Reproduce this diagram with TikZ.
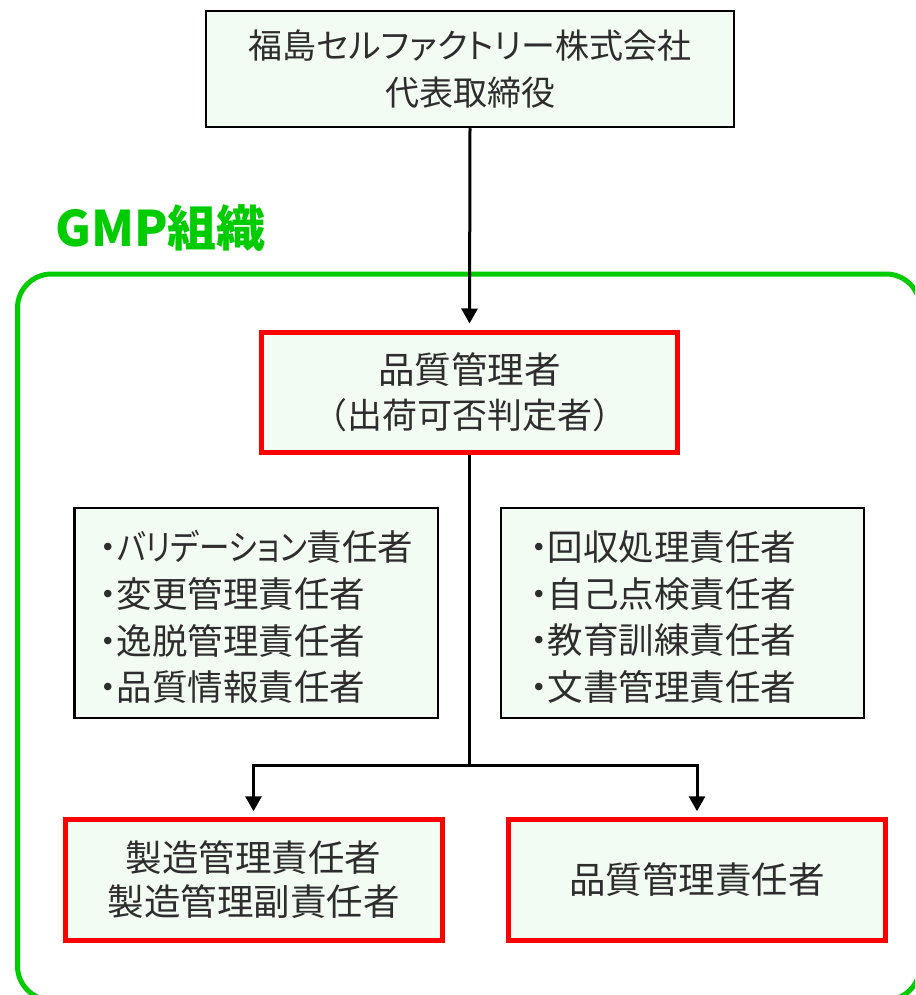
\documentclass[tikz,border=0pt]{standalone}
\usepackage{graphicx}
\usepackage{fontspec}
\setmainfont{Noto Sans CJK JP}[RawFeature=+palt]
\newfontfamily\jpplain{Noto Sans CJK JP}
\usetikzlibrary{arrows.meta}
\definecolor{boxfill}{RGB}{243,252,243}
\definecolor{txt}{RGB}{45,45,45}
\definecolor{gmpgreen}{RGB}{0,204,0}
\definecolor{redline}{RGB}{255,0,0}
\begin{document}
\begin{tikzpicture}[x=1pt,y=-1pt,
  blackbox/.style={draw=black, line width=2.5pt, fill=boxfill, inner sep=0pt, text=txt, align=center},
  redbox/.style={draw=redline, line width=5pt, fill=boxfill, inner sep=0pt, text=txt, align=center},
  listtext/.style={text=txt, align=left, inner sep=0pt, anchor=west, font=\fontsize{35.5}{46.7}\selectfont},
  conn/.style={line width=3pt, draw=black},
  arr/.style={conn, -{Triangle[width=16pt,length=15pt]}, shorten >=6pt}
]
\useasboundingbox (0,0) rectangle (915,995);
\begin{scope}
  \clip (0,0) rectangle (915,995);
  \draw[gmpgreen, line width=5pt, rounded corners=34pt] (17.5,274) rectangle (920,1000);
\end{scope}

\node[blackbox, minimum width=528pt, minimum height=116pt, font=\fontsize{34}{47}\selectfont] (top) at (470,69) {福島セルファクトリー株式会社\\代表取締役};

\node[font=\bfseries\fontsize{49}{52}\selectfont, text=gmpgreen, anchor=west, inner sep=0pt] (gmp) at (55,228) {GMP組織};

\node[redbox, minimum width=416pt, minimum height=120pt, font=\fontsize{36.5}{45}\selectfont] (qa) at (469.5,392) {品質管理者\\{\jpplain\fontsize{35}{45}\selectfont （出荷可否判定者）}};

\draw[arr] (top.south) -- (qa.north);

\node[blackbox, minimum width=363.5pt, minimum height=210pt] (lbox) at (256,613) {};
\node[listtext] (ltext) at (99,617) {・\scalebox{0.86}[1]{バリデーション}責任者\\・変更管理責任者\\・逸脱管理責任者\\・品質情報責任者};
\node[blackbox, minimum width=363pt, minimum height=210pt] (rbox) at (682.4,613) {};
\node[listtext] (rtext) at (530,617) {・回収処理責任者\\・自己点検責任者\\・教育訓練責任者\\・文書管理責任者};

\node[redbox, minimum width=377pt, minimum height=120.5pt, font=\fontsize{36.5}{44}\selectfont] (mfg) at (253.5,880) {製造管理責任者\\製造管理副責任者};
\node[redbox, minimum width=377.5pt, minimum height=120.5pt, font=\fontsize{36.5}{44}\selectfont] (qc) at (697,880) {品質管理責任者};

\coordinate (split) at (469.5,765);
\draw[conn] (qa.south) -- (split);
\draw[arr] (split) -| (mfg.north);
\draw[arr] (split) -| (qc.north);
\end{tikzpicture}
\end{document}
